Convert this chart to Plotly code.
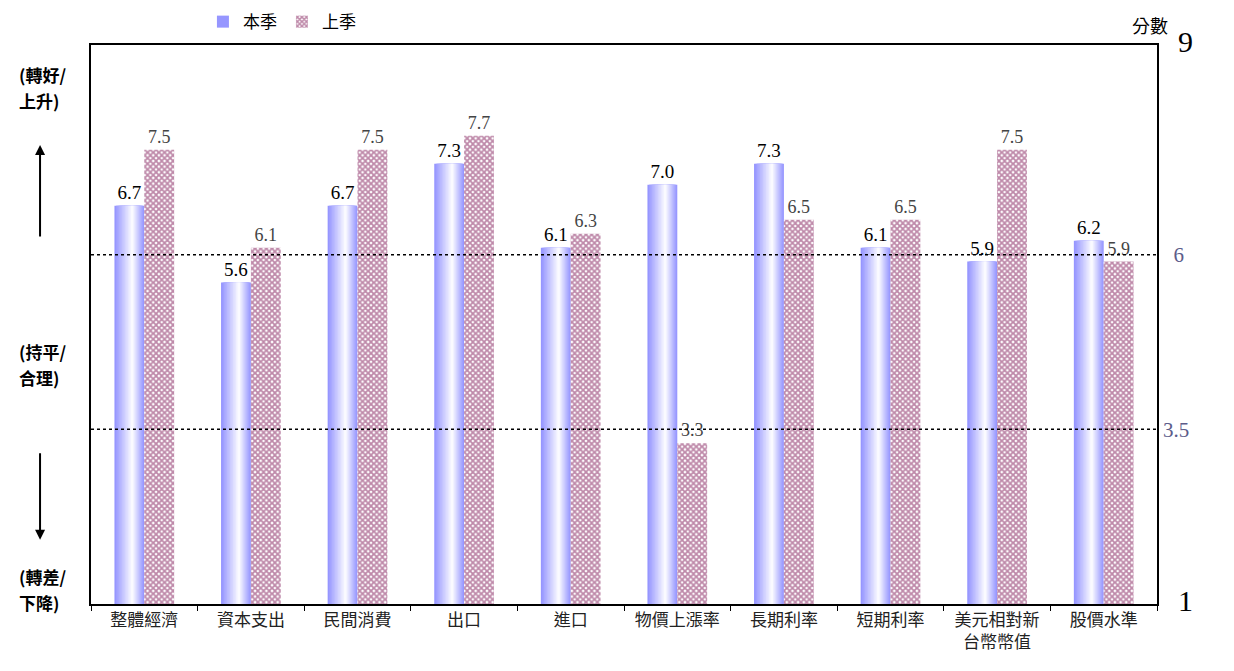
import plotly.graph_objects as go

categories = ['整體經濟', '資本支出', '民間消費', '出口', '進口',
              '物價上漲率', '長期利率', '短期利率', '美元相對新<br>台幣幣值', '股價水準']
this_season = [6.7, 5.6, 6.7, 7.3, 6.1, 7.0, 7.3, 6.1, 5.9, 6.2]
last_season = [7.5, 6.1, 7.5, 7.7, 6.3, 3.3, 6.5, 6.5, 7.5, 5.9]
ref_levels = [6, 3.5]
right_ticks = [1, 3.5, 6, 9]
right_ticktext = ['<span style="font-size:30px;color:black">&nbsp;&nbsp;1</span>',
                  '<span style="color:#5c5c8a">3.5</span>',
                  '<span style="color:#5c5c8a">&nbsp;&nbsp;6</span>',
                  '<span style="font-size:30px;color:black">&nbsp;&nbsp;9</span>']
side_lines = ['(轉好/', '上升)', '(持平/', '合理)', '(轉差/', '下降)']
side_line_y = [8.58, 8.2, 4.62, 4.24, 1.4, 1.02]

bar_w = 0.28
n_layers = 12
peak = 0.6  # where the blue bar is lightest

fig = go.Figure()

# blue bar drawn as nested layers to fake the horizontal gradient
for k in range(n_layers):
    f = 1 - k / n_layers
    left = peak - peak * f
    right = peak + (1 - peak) * f
    light = k / (n_layers - 1)
    r = int(150 + (250 - 150) * light)
    col = f'rgb({r},{r},255)'
    first = k == 0
    fig.add_trace(go.Bar(
        x=categories, y=this_season,
        name='本季', showlegend=first,
        width=bar_w * (right - left),
        offset=-bar_w + bar_w * left,
        marker=dict(color=col, line=dict(width=0)),
        text=[f'{v:.1f}' for v in this_season] if first else None,
        textposition='outside' if first else 'none',
        textfont=dict(family='Liberation Serif', size=19, color='black'),
        cliponaxis=False, hoverinfo='skip',
    ))

fig.add_trace(go.Bar(
    x=categories, y=last_season, name='上季',
    width=bar_w, offset=0,
    marker=dict(color='white', line=dict(width=0),
                pattern=dict(shape='x', fgcolor='#7e1454', bgcolor='white',
                             size=4, solidity=0.7)),
    text=[f'{v:.1f}' for v in last_season], textposition='outside',
    textfont=dict(family='Liberation Serif', size=18, color='#444444'),
    cliponaxis=False, hoverinfo='skip',
))

for lv in ref_levels:
    fig.add_shape(type='line', xref='paper', yref='y', x0=0, x1=1, y0=lv, y1=lv,
                  line=dict(color='black', width=1.5, dash='dot'), layer='above')

# left side labels and arrows
side_font = dict(family='Noto Sans CJK TC', size=17, color='black')
for txt, yy in zip(side_lines, side_line_y):
    fig.add_annotation(text=f'<b>{txt}</b>', xref='paper', yref='y', x=-0.069, y=yy,
                       xanchor='left', yanchor='middle', showarrow=False, font=side_font)
fig.add_annotation(xref='paper', yref='y', x=-0.0478, y=7.57, ax=0, ay=93,
                   text='', showarrow=True,
                   arrowhead=2, arrowsize=1, arrowwidth=2, arrowcolor='black')
fig.add_annotation(xref='paper', yref='y', x=-0.0478, y=1.92, ax=0, ay=-88,
                   text='', showarrow=True,
                   arrowhead=2, arrowsize=1, arrowwidth=2, arrowcolor='black')
fig.add_annotation(text='分數', xref='paper', yref='paper', x=1.012, y=1.036,
                   xanchor='right', yanchor='middle', showarrow=False,
                   font=dict(family='Noto Sans CJK TC', size=18, color='black'))

# page has an 8px body margin, so the figure is a bit smaller than the window
fig.update_layout(
    width=1226, height=663,
    margin=dict(l=83, r=77, t=37, b=67, autoexpand=False),
    barmode='overlay',
    plot_bgcolor='white', paper_bgcolor='white',
    font=dict(family='Noto Sans CJK TC', color='black'),
    legend=dict(orientation='h', x=0.105, y=1.041, yanchor='middle',
                font=dict(size=17), tracegroupgap=0),
    xaxis=dict(showline=True, linecolor='black', linewidth=1.5, mirror=True,
               ticks='outside', tickson='boundaries', ticklen=5, tickcolor='black',
               tickfont=dict(family='Noto Sans CJK TC', size=17, color='#222')),
    yaxis=dict(range=[1, 9], side='right', showline=True, linecolor='black',
               linewidth=1.5, mirror=True, showgrid=False, zeroline=False,
               tickvals=right_ticks, ticktext=right_ticktext, ticks='',
               tickfont=dict(family='Liberation Serif', size=21)),
)

fig.write_html('out.html')
